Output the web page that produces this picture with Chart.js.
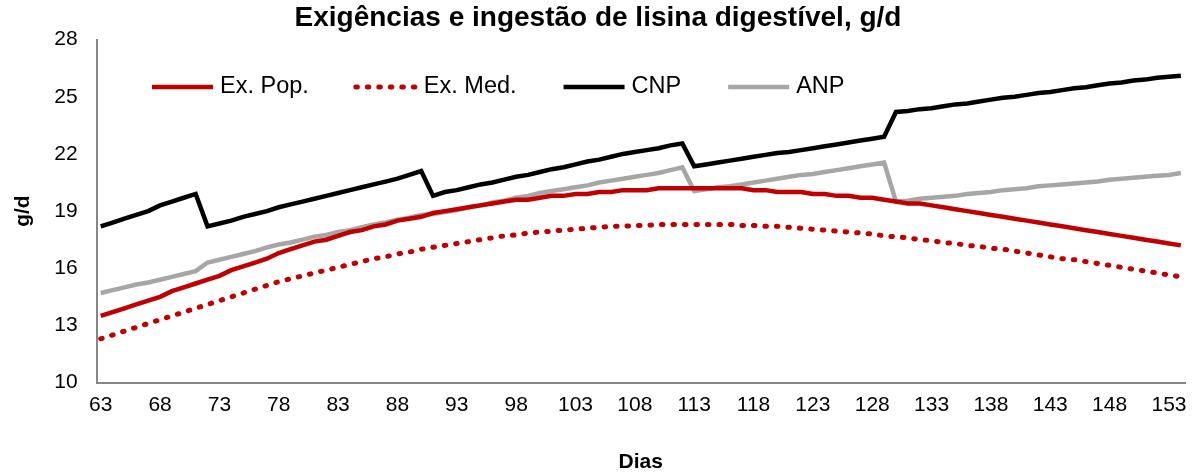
<!DOCTYPE html>
<html>
<head>
<meta charset="utf-8">
<script src="https://cdn.jsdelivr.net/npm/chart.js@4.4.1/dist/chart.umd.min.js"></script>
<style>
  html, body { margin: 0; padding: 0; background: #fff; }
  #wrap { width: 1200px; height: 475px; }
</style>
</head>
<body>
<div id="wrap"><canvas id="myChart1"></canvas></div>
<script>
// dias 63..154
const days = [63, 64, 65, 66, 67, 68, 69, 70, 71, 72, 73, 74, 75, 76, 77, 78, 79, 80, 81, 82,
  83, 84, 85, 86, 87, 88, 89, 90, 91, 92, 93, 94, 95, 96, 97, 98, 99, 100, 101, 102,
  103, 104, 105, 106, 107, 108, 109, 110, 111, 112, 113, 114, 115, 116, 117, 118, 119, 120, 121, 122,
  123, 124, 125, 126, 127, 128, 129, 130, 131, 132, 133, 134, 135, 136, 137, 138, 139, 140, 141, 142,
  143, 144, 145, 146, 147, 148, 149, 150, 151, 152, 153, 154];

const xTickLabels = [63, 68, 73, 78, 83, 88, 93, 98, 103, 108, 113, 118, 123, 128, 133, 138, 143, 148, 153];
const yTickLabels = [10, 13, 16, 19, 22, 25, 28];

const exPop = [13.5, 13.7, 13.9, 14.1, 14.3, 14.5, 14.8, 15.0, 15.2, 15.4, 15.6, 15.9, 16.1, 16.3, 16.5, 16.8, 17.0, 17.2, 17.4, 17.5,
  17.7, 17.9, 18.0, 18.2, 18.3, 18.5, 18.6, 18.7, 18.9, 19.0, 19.1, 19.2, 19.3, 19.4, 19.5, 19.6, 19.6, 19.7, 19.8, 19.8,
  19.9, 19.9, 20.0, 20.0, 20.1, 20.1, 20.1, 20.2, 20.2, 20.2, 20.2, 20.2, 20.2, 20.2, 20.2, 20.1, 20.1, 20.0, 20.0, 20.0,
  19.9, 19.9, 19.8, 19.8, 19.7, 19.7, 19.6, 19.5, 19.4, 19.4, 19.3, 19.2, 19.1, 19.0, 18.9, 18.8, 18.7, 18.6, 18.5, 18.4,
  18.3, 18.2, 18.1, 18.0, 17.9, 17.8, 17.7, 17.6, 17.5, 17.4, 17.3, 17.2];

const exMed = [12.3, 12.5, 12.7, 12.9, 13.1, 13.3, 13.5, 13.7, 13.9, 14.1, 14.3, 14.5, 14.7, 14.9, 15.1, 15.3, 15.45, 15.6, 15.75, 15.9,
  16.05, 16.2, 16.35, 16.5, 16.6, 16.75, 16.85, 17.0, 17.1, 17.2, 17.3, 17.4, 17.5, 17.6, 17.7, 17.75, 17.85, 17.9, 17.95, 18.0,
  18.05, 18.1, 18.15, 18.2, 18.2, 18.25, 18.25, 18.3, 18.3, 18.3, 18.3, 18.3, 18.3, 18.3, 18.25, 18.25, 18.2, 18.2, 18.15, 18.1,
  18.05, 18.0, 17.95, 17.9, 17.85, 17.8, 17.7, 17.65, 17.6, 17.5, 17.45, 17.35, 17.3, 17.2, 17.15, 17.05, 17.0, 16.9, 16.8, 16.7,
  16.6, 16.5, 16.45, 16.35, 16.25, 16.15, 16.05, 15.95, 15.85, 15.75, 15.65, 15.55];

const cnp = [18.2, 18.4, 18.6, 18.8, 19.0, 19.3, 19.5, 19.7, 19.9, 18.2, 18.35, 18.5, 18.7, 18.85, 19.0, 19.2, 19.35, 19.5, 19.65, 19.8,
  19.95, 20.1, 20.25, 20.4, 20.55, 20.7, 20.9, 21.1, 19.8, 20.0, 20.1, 20.25, 20.4, 20.5, 20.65, 20.8, 20.9, 21.05, 21.2, 21.3,
  21.45, 21.6, 21.7, 21.85, 22.0, 22.1, 22.2, 22.3, 22.45, 22.55, 21.35, 21.45, 21.55, 21.65, 21.75, 21.85, 21.95, 22.05, 22.1, 22.2,
  22.3, 22.4, 22.5, 22.6, 22.7, 22.8, 22.9, 24.2, 24.25, 24.35, 24.4, 24.5, 24.6, 24.65, 24.75, 24.85, 24.95, 25.0, 25.1, 25.2,
  25.25, 25.35, 25.45, 25.5, 25.6, 25.7, 25.75, 25.85, 25.9, 26.0, 26.05, 26.1];

const anp = [14.7, 14.85, 15.0, 15.15, 15.25, 15.4, 15.55, 15.7, 15.85, 16.3, 16.45, 16.6, 16.75, 16.9, 17.1, 17.25, 17.35, 17.5, 17.65, 17.75,
  17.9, 18.0, 18.15, 18.3, 18.4, 18.55, 18.65, 18.8, 18.85, 18.95, 19.05, 19.2, 19.3, 19.45, 19.55, 19.7, 19.8, 19.95, 20.05, 20.15,
  20.25, 20.35, 20.5, 20.6, 20.7, 20.8, 20.9, 21.0, 21.15, 21.3, 20.05, 20.15, 20.25, 20.3, 20.4, 20.5, 20.6, 20.7, 20.8, 20.9,
  20.95, 21.05, 21.15, 21.25, 21.35, 21.45, 21.55, 19.5, 19.55, 19.65, 19.7, 19.75, 19.8, 19.9, 19.95, 20.0, 20.1, 20.15, 20.2, 20.3,
  20.35, 20.4, 20.45, 20.5, 20.55, 20.65, 20.7, 20.75, 20.8, 20.85, 20.9, 21.0];

const FONT = "'Liberation Sans', Arial, sans-serif";

function pts(values) {
  return values.map((v, i) => ({ x: days[i], y: v }));
}

// legenda desenhada dentro da area do grafico
const innerLegend = {
  id: 'innerLegend',
  afterDraw(chart) {
    const ctx = chart.ctx;
    let x = 152;
    const y = 87;
    ctx.save();
    ctx.font = "23.5px " + FONT;
    ctx.textBaseline = 'middle';
    chart.data.datasets.forEach(ds => {
      ctx.beginPath();
      ctx.strokeStyle = ds.borderColor;
      ctx.lineWidth = ds.borderWidth;
      ctx.lineCap = ds.borderCapStyle || 'butt';
      ctx.setLineDash(ds.borderDash || []);
      ctx.moveTo(x, y);
      ctx.lineTo(x + 61, y);
      ctx.stroke();
      ctx.setLineDash([]);
      ctx.fillStyle = '#000';
      ctx.fillText(ds.label, x + 68, y);
      x += 68 + ctx.measureText(ds.label).width + 47;
    });
    ctx.restore();
  }
};

const ctx = document.getElementById('myChart1').getContext('2d');
const myChart = new Chart(ctx, {
  type: 'line',
  data: {
    datasets: [{
      label: "Ex. Pop.",
      data: pts(exPop),
      borderColor: "#C00000",
      borderWidth: 4.5,
      pointRadius: 0,
      fill: false,
    }, {
      label: "Ex. Med.",
      data: pts(exMed),
      borderColor: "#C00000",
      borderWidth: 5,
      borderDash: [1.5, 10],
      borderCapStyle: 'round',
      pointRadius: 0,
      fill: false,
    }, {
      label: "CNP",
      data: pts(cnp),
      borderColor: "#000000",
      borderWidth: 4.5,
      pointRadius: 0,
      fill: false,
    }, {
      label: "ANP",
      data: pts(anp),
      borderColor: "#A6A6A6",
      borderWidth: 4.5,
      pointRadius: 0,
      fill: false,
    }]
  },
  options: {
    responsive: true,
    maintainAspectRatio: false,
    animation: false,
    layout: { padding: { left: 11, right: 15, top: 0, bottom: 0 } },
    plugins: {
      legend: { display: false },
      tooltip: { enabled: false },
      title: {
        display: true,
        text: "Exigências e ingestão de lisina digestível, g/d",
        color: '#000',
        font: { family: FONT, size: 28, weight: 'bold' },
        padding: { top: 1, bottom: 5 }
      }
    },
    scales: {
      x: {
        type: 'linear',
        min: 62.65,
        max: 154.35,
        afterBuildTicks: axis => { axis.ticks = xTickLabels.map(v => ({ value: v })); },
        grid: { display: false },
        border: { display: true, color: '#868686', width: 2 },
        ticks: {
          autoSkip: false, maxRotation: 0, padding: 2, color: '#000',
          font: { family: FONT, size: 21 },
          callback: v => String(v)
        },
        title: {
          display: true, text: 'Dias', color: '#000',
          font: { family: FONT, size: 21, weight: 'bold' },
          padding: { top: 30, bottom: 0 }
        }
      },
      y: {
        min: 10,
        max: 28,
        afterBuildTicks: axis => { axis.ticks = yTickLabels.map(v => ({ value: v })); },
        grid: { display: false },
        border: { display: true, color: '#868686', width: 2 },
        ticks: {
          padding: 11, color: '#000',
          font: { family: FONT, size: 21 },
          callback: v => String(v)
        },
        title: {
          display: true, text: 'g/d', color: '#000',
          font: { family: FONT, size: 21, weight: 'bold' },
          padding: { top: 0, bottom: 7 }
        }
      }
    }
  },
  plugins: [innerLegend]
});
</script>
</body>
</html>
